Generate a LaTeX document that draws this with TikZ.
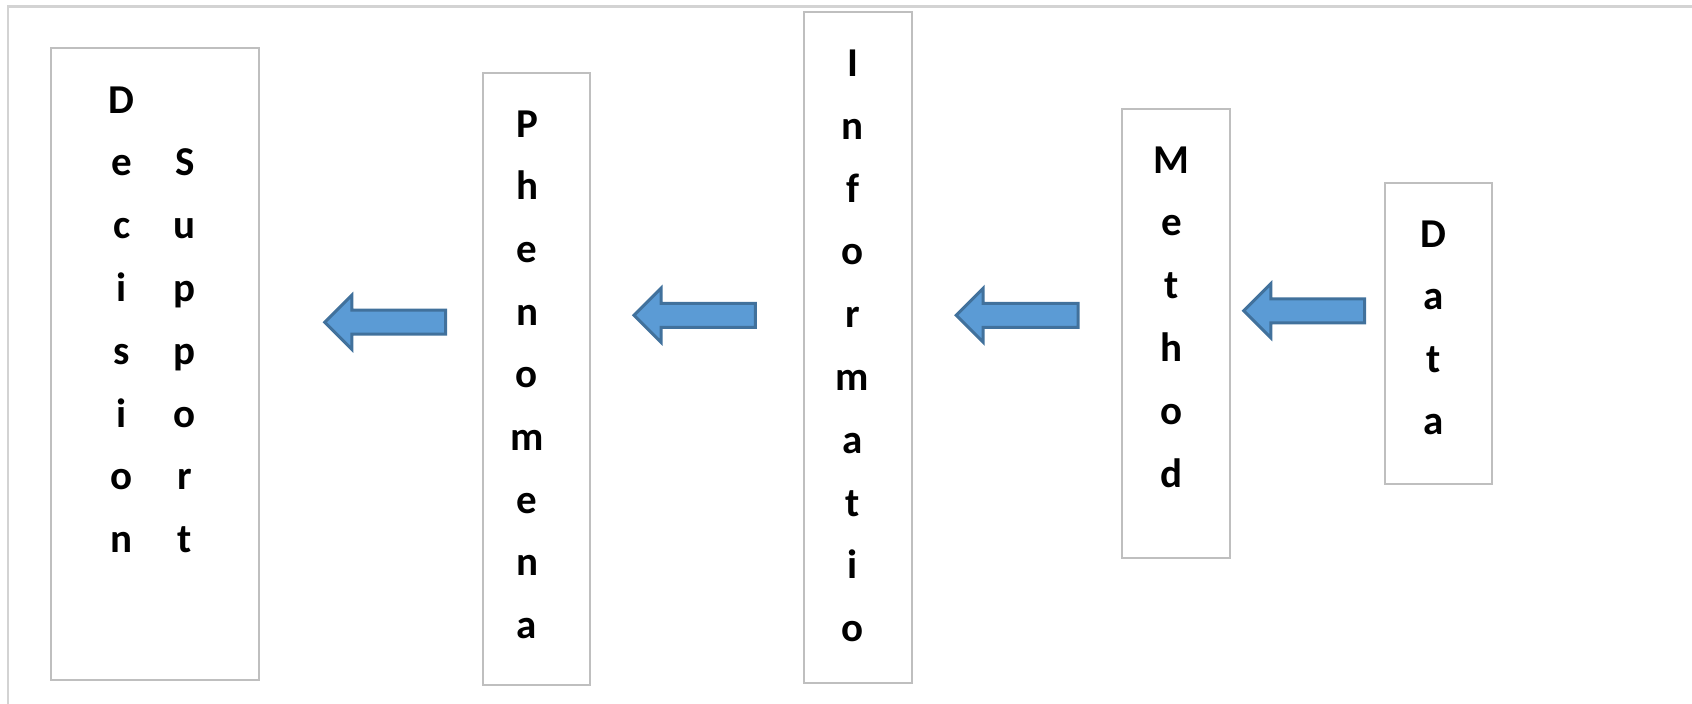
\documentclass[tikz,border=0pt]{standalone}
\usepackage{fontspec}
\setmainfont{Carlito}
\usetikzlibrary{calc}
\definecolor{arrowfill}{HTML}{5B9BD5}
\definecolor{arrowline}{HTML}{41719C}
\definecolor{framegray}{HTML}{D3D3D3}
\definecolor{boxgray}{HTML}{BFBFBF}
\newcommand\blockarrow[2]{%
  \draw[barrow] ($(#1)+(0,-12)$) -- ($(#2)+(27,-12)$) -- ($(#2)+(27,-27)$) -- (#2)
    -- ($(#2)+(27,27)$) -- ($(#2)+(27,12)$) -- ($(#1)+(0,12)$) -- cycle;}
\begin{document}
\begin{tikzpicture}[x=1pt,y=-1pt,
  frame/.style={draw=framegray, line width=2.7pt},
  panel/.style={draw=boxgray, line width=2pt, inner sep=0pt, anchor=north west},
  letter/.style={font=\bfseries\fontsize{41}{48}\selectfont, anchor=base, inner sep=0pt},
  barrow/.style={fill=arrowfill, draw=arrowline, line width=3pt, line join=miter}]
\useasboundingbox (0,0) rectangle (1692,704);
\draw[frame] (8,704) -- (8,6.3) -- (1692,6.3);

% boxes
\node[panel, minimum width=208.6pt, minimum height=632.3pt] (dec) at (49.7,47.1) {};
\node[panel, minimum width=107.3pt, minimum height=612.1pt] (phe) at (482,71.8) {};
\node[panel, minimum width=107.9pt, minimum height=670.4pt] (inf) at (802.8,11.2) {};
\node[panel, minimum width=107.6pt, minimum height=449pt] (met) at (1121.2,107.8) {};
\node[panel, minimum width=107.5pt, minimum height=300.8pt] (dat) at (1383.7,181.9) {};

% letters
\foreach \c [count=\i from 0] in {D,e,c,i,s,i,o,n}
  \node[letter] (decA\i) at (121.7,{113+62.8*\i}) {\c};
\foreach \c [count=\i from 0] in {S,u,p,p,o,r,t}
  \node[letter] (decB\i) at (184.8,{175.8+62.8*\i}) {\c};
\foreach \c [count=\i from 0] in {P,h,e,n,o,m,e,n,a}
  \node[letter] (phe\i) at (527,{137+62.7*\i}) {\c};
\foreach \c [count=\i from 0] in {I,n,f,o,r,m,a,t,i,o}
  \node[letter] (inf\i) at (852.6,{76.5+62.8*\i}) {\c};
\foreach \c [count=\i from 0] in {M,e,t,h,o,d}
  \node[letter] (met\i) at (1171.4,{173+62.8*\i}) {\c};
\foreach \c [count=\i from 0] in {D,a,t,a}
  \node[letter] (dat\i) at (1433.4,{247+62.6*\i}) {\c};

% arrows
\coordinate (a1tail) at (445.5,322.2); \coordinate (a1tip) at (324.8,322.2);
\coordinate (a2tail) at (755.4,315.3); \coordinate (a2tip) at (634,315.3);
\coordinate (a3tail) at (1078,315.3); \coordinate (a3tip) at (956.2,315.3);
\coordinate (a4tail) at (1364.5,310.8); \coordinate (a4tip) at (1243.8,310.8);
\blockarrow{a1tail}{a1tip}
\blockarrow{a2tail}{a2tip}
\blockarrow{a3tail}{a3tip}
\blockarrow{a4tail}{a4tip}
\end{tikzpicture}
\end{document}
